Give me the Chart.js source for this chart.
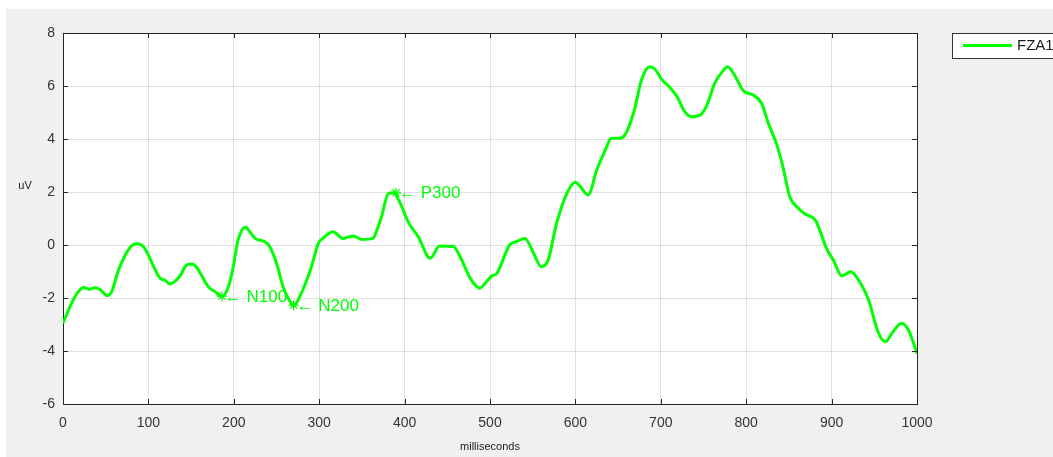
<!DOCTYPE html>
<html>
<head>
<meta charset="utf-8">
<script src="https://cdn.jsdelivr.net/npm/chart.js@4"></script>
<style>
  html, body { margin: 0; padding: 0; background: #fff; }
  canvas { display: block; }
</style>
</head>
<body>
<canvas id="grafico" width="1053" height="457"></canvas>
<script>
// values
var timeMs = [0, 10, 18, 24, 31, 37, 43, 52, 57, 65, 73, 80, 86, 94, 100, 108, 114, 119, 125, 129,
  137, 145, 151, 156, 162, 170, 178, 186, 194, 199, 205, 214, 217, 225, 236, 242, 250, 258, 266, 270,
  278, 291, 299, 306, 316, 328, 340, 350, 363, 369, 373, 381, 387, 395, 404, 416, 430, 441, 457, 465,
  477, 488, 496, 502, 508, 523, 531, 541, 551, 560, 568, 578, 590, 600, 605, 615, 625, 635, 642, 652,
  658, 668, 678, 687, 693, 701, 709, 719, 728, 736, 746, 754, 763, 773, 778, 785, 797, 808, 818, 826,
  836, 843, 851, 859, 869, 881, 886, 894, 902, 912, 922, 929, 943, 955, 963, 972, 982, 990, 1000];
var fza1 = [-2.95, -2.2, -1.76, -1.6, -1.67, -1.61, -1.67, -1.91, -1.76, -0.94, -0.38, -0.04, 0.06, -0.06, -0.38, -0.94, -1.26, -1.32, -1.47, -1.42,
  -1.17, -0.75, -0.72, -0.82, -1.13, -1.57, -1.76, -1.95, -1.55, -0.88, 0.19, 0.68, 0.57, 0.25, 0.13, -0.06, -0.69, -1.6, -2.14, -2.3,
  -1.89, -0.82, 0.06, 0.3, 0.5, 0.25, 0.34, 0.21, 0.25, 0.69, 1.07, 1.95, 1.97, 1.57, 0.88, 0.31, -0.5, -0.04, -0.06, -0.44,
  -1.26, -1.63, -1.38, -1.17, -1.07, 0, 0.13, 0.25, -0.31, -0.82, -0.57, 0.82, 1.95, 2.37, 2.23, 1.89, 2.83, 3.58, 4.03, 4.03,
  4.15, 4.97, 6.29, 6.73, 6.64, 6.25, 6.0, 5.6, 5.03, 4.84, 4.9, 5.28, 6.1, 6.58, 6.73, 6.48, 5.81, 5.66, 5.35, 4.59,
  3.77, 2.95, 1.82, 1.45, 1.17, 0.94, 0.57, -0.13, -0.57, -1.17, -1.01, -1.2, -2.05, -3.33, -3.65, -3.27, -2.95, -3.21, -4.09];

var picoNomes = ["N100", "N200", "P300"];
var picoMs = [186, 270, 390];
var picoUv = [-1.93, -2.27, 1.97];

var xTicks = [0, 100, 200, 300, 400, 500, 600, 700, 800, 900, 1000];
var yTicks = [-6, -4, -2, 0, 2, 4, 6, 8];

var verde = "#00ff00";
var fonte = "'Liberation Sans', Arial, sans-serif";

var fundoPlugin = {
  id: "fundo",
  beforeDraw: function (chart) {
    var ctx = chart.ctx, a = chart.chartArea;
    ctx.save();
    ctx.fillStyle = "#f0f0f0";
    ctx.fillRect(6, 9, chart.width - 6, chart.height - 9);
    ctx.fillStyle = "#ffffff";
    ctx.fillRect(a.left, a.top, a.right - a.left, a.bottom - a.top);
    ctx.restore();
  },
  afterDraw: function (chart) {
    var ctx = chart.ctx, a = chart.chartArea;
    var sx = chart.scales.x, sy = chart.scales.y;
    ctx.save();
    // caixa e ticks para dentro
    ctx.strokeStyle = "#262626";
    ctx.lineWidth = 1;
    ctx.beginPath();
    ctx.moveTo(a.left, a.top + 0.5);
    ctx.lineTo(a.right + 0.5, a.top + 0.5);
    ctx.lineTo(a.right + 0.5, a.bottom);
    xTicks.forEach(function (t) {
      var px = Math.round(sx.getPixelForValue(t)) + 0.5;
      ctx.moveTo(px, a.bottom); ctx.lineTo(px, a.bottom - 5);
      ctx.moveTo(px, a.top); ctx.lineTo(px, a.top + 5);
    });
    yTicks.forEach(function (t) {
      var py = Math.round(sy.getPixelForValue(t)) + 0.5;
      ctx.moveTo(a.left, py); ctx.lineTo(a.left + 5, py);
      ctx.moveTo(a.right, py); ctx.lineTo(a.right - 5, py);
    });
    ctx.stroke();

    // rotulos dos eixos
    ctx.fillStyle = "#1a1a1a";
    ctx.font = "11px " + fonte;
    ctx.textAlign = "center";
    ctx.textBaseline = "middle";
    ctx.fillText("uV", 25, 186);
    ctx.fillText("milliseconds", (a.left + a.right) / 2, 447);

    // picos
    ctx.fillStyle = verde;
    ctx.font = "17px " + fonte;
    ctx.textAlign = "left";
    for (var i = 0; i < picoNomes.length; i++) {
      var px = sx.getPixelForValue(picoMs[i]);
      var py = sy.getPixelForValue(picoUv[i]);
      ctx.fillText("\u2190 " + picoNomes[i], px + 3, py + 1);
    }

    // legenda
    ctx.fillStyle = "#ffffff";
    ctx.fillRect(952.5, 33.5, 110, 25);
    ctx.strokeStyle = "#333333";
    ctx.strokeRect(952.5, 33.5, 110, 25);
    ctx.strokeStyle = verde;
    ctx.lineWidth = 3;
    ctx.beginPath();
    ctx.moveTo(963, 45.5);
    ctx.lineTo(1012, 45.5);
    ctx.stroke();
    ctx.fillStyle = "#1a1a1a";
    ctx.font = "15px " + fonte;
    ctx.textBaseline = "middle";
    ctx.fillText("FZA1", 1017, 46);
    ctx.restore();
  }
};

var pontos = timeMs.map(function (t, i) { return { x: t, y: fza1[i] }; });
var picos = picoMs.map(function (t, i) { return { x: t, y: picoUv[i] }; });

var ctx1 = document.getElementById("grafico").getContext("2d");
var grafico = new Chart(ctx1, {
  type: "line",
  data: {
    datasets: [
      {
        label: "FZA1",
        data: pontos,
        borderColor: verde,
        borderWidth: 3,
        pointRadius: 0,
        fill: false,
        cubicInterpolationMode: "monotone",
      },
      {
        label: "picos",
        data: picos,
        showLine: false,
        pointStyle: "star",
        pointRadius: 5,
        borderColor: verde,
        backgroundColor: verde,
        pointBorderWidth: 1.2,
      },
    ],
  },
  options: {
    responsive: false,
    animation: false,
    layout: { padding: { top: 33, right: 136, left: 0, bottom: 0 } },
    plugins: {
      legend: { display: false },
      tooltip: { enabled: false },
    },
    scales: {
      x: {
        type: "linear",
        min: 0,
        max: 1000,
        afterFit: function (s) { s.height = 53; },
        afterBuildTicks: function (s) { s.ticks = xTicks.map(function (v) { return { value: v }; }); },
        ticks: {
          color: "#333333",
          font: { family: fonte, size: 14 },
          padding: 11,
          maxRotation: 0,
          callback: function (v) { return String(v); },
        },
        grid: { color: "rgba(0,0,0,0.12)", drawTicks: false },
        border: { color: "#262626", width: 1 },
      },
      y: {
        min: -6,
        max: 8,
        afterFit: function (s) { s.width = 63; },
        afterBuildTicks: function (s) { s.ticks = yTicks.map(function (v) { return { value: v }; }); },
        ticks: {
          color: "#333333",
          font: { family: fonte, size: 14 },
          padding: 8,
          callback: function (v) { return String(v); },
        },
        grid: { color: "rgba(0,0,0,0.12)", drawTicks: false },
        border: { color: "#262626", width: 1 },
      },
    },
  },
  plugins: [fundoPlugin],
});
</script>
</body>
</html>
